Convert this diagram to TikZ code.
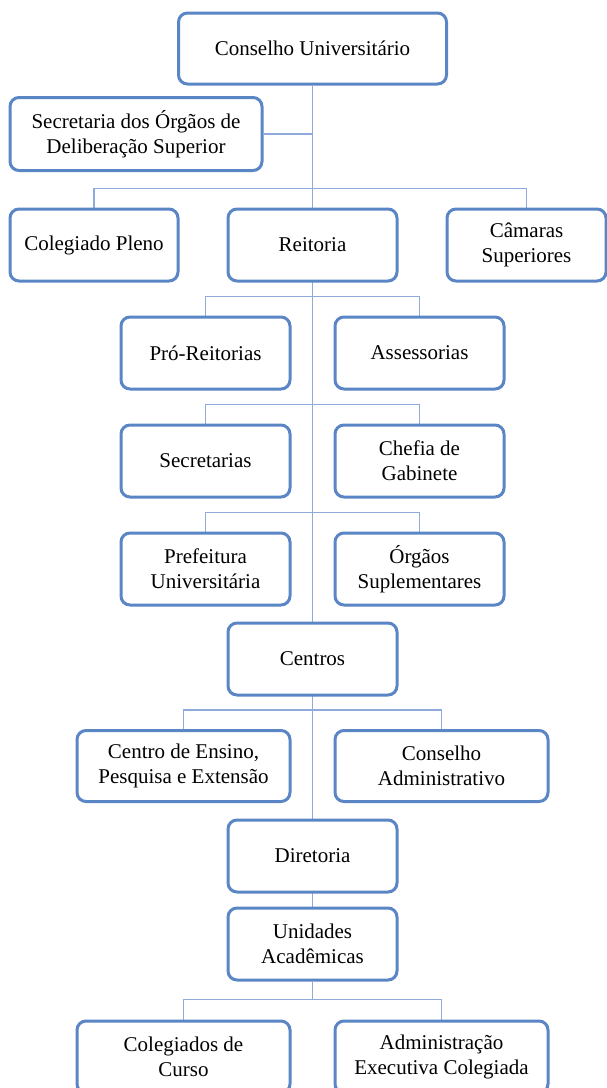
\documentclass[tikz,border=0pt]{standalone}
\usepackage{fontspec}
\setmainfont{Liberation Serif}
\usepackage{tikz}
\usetikzlibrary{backgrounds}
\definecolor{boxblue}{HTML}{5A86C6}
\definecolor{lineblue}{HTML}{8EABDB}
\tikzset{
    org-box/.style = {draw=boxblue, fill=white, line width=3pt, rectangle, rounded corners=9pt, align=center, inner sep=0pt, minimum width=169pt, minimum height=72pt, font=\fontsize{21}{25}\selectfont},
    org-line/.style = {draw=lineblue, line width=1.1pt},
}

\begin{document}
\begin{tikzpicture}[x=1pt, y=-1pt]
\useasboundingbox (0,0) rectangle (607,1088);
\clip (0,0) rectangle (607,1088);

\node[org-box, minimum width=268pt, minimum height=71pt] (conselho) at (312.5,48.5) {Conselho Universitário};
\node[org-box, minimum width=252pt, minimum height=73pt] (secretaria) at (136,134) {Secretaria dos Órgãos de\\Deliberação Superior};

\node[org-box, minimum width=168pt] (colegiado) at (94,245) {Colegiado Pleno};
\node[org-box] (reitoria) at (312.5,245) {Reitoria};
\node[org-box, minimum width=159pt] (camaras) at (526.5,245) {Câmaras\\Superiores};

\node[org-box] (proreitorias) at (205.5,353) {Pró-Reitorias};
\node[org-box] (assessorias) at (419.5,353) {Assessorias};

\node[org-box] (secretarias) at (205.5,461) {Secretarias};
\node[org-box] (chefia) at (419.5,461) {Chefia de\\Gabinete};

\node[org-box] (prefeitura) at (205.5,569) {Prefeitura\\Universitária};
\node[org-box] (orgaos) at (419.5,569) {Órgãos\\Suplementares};

\node[org-box] (centros) at (312.5,659) {Centros};

\node[org-box, minimum width=213pt, minimum height=71pt] (ensino) at (183.5,766) {Centro de Ensino,\\Pesquisa e Extensão};
\node[org-box, minimum width=213pt, minimum height=71pt] (conadm) at (441.5,766) {Conselho\\Administrativo};

\node[org-box] (diretoria) at (312.5,856) {Diretoria};
\node[org-box] (unidades) at (312.5,944) {Unidades\\Acadêmicas};

\node[org-box, minimum width=213pt] (colegiados) at (183.5,1057) {Colegiados de\\Curso};
\node[org-box, minimum width=213pt] (administracao) at (441.5,1057) {Administração\\Executiva Colegiada};

\begin{scope}[on background layer]
\draw[org-line] (conselho.south) -- (unidades.north);
\draw[org-line] (secretaria.east) -- (secretaria.east -| conselho.south);
\draw[org-line] (colegiado.north) -- ++(0,-19) -| (camaras.north);
\draw[org-line] (proreitorias.north) -- ++(0,-19) -| (assessorias.north);
\draw[org-line] (secretarias.north) -- ++(0,-19) -| (chefia.north);
\draw[org-line] (prefeitura.north) -- ++(0,-19) -| (orgaos.north);
\draw[org-line] (ensino.north) -- ++(0,-19) -| (conadm.north);
\draw[org-line] (colegiados.north) -- ++(0,-20) coordinate (bar-unidades) -| (administracao.north);
\draw[org-line] (unidades.south) -- (unidades.south |- bar-unidades);
\end{scope}
\end{tikzpicture}
\end{document}
